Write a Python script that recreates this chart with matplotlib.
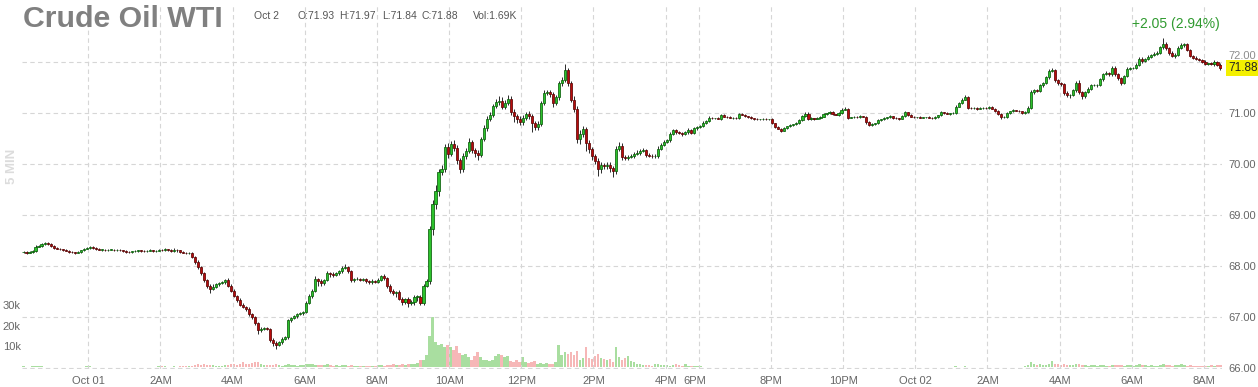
import matplotlib.pyplot as plt
import matplotlib.transforms as mtransforms
import numpy as np
import pandas as pd

plt.rcParams["font.family"] = ["Liberation Sans", "DejaVu Sans"]

# 5 minute bars, Sep 30 22:10 -> Oct 01 16:50, Oct 01 18:00 -> Oct 02 08:25
times = pd.date_range("2024-09-30 22:10", "2024-10-01 16:50", freq="5min").append(
    pd.date_range("2024-10-01 18:00", "2024-10-02 08:25", freq="5min"))

first_open = 68.27
# closing price of every bar, one row per hour
closes_by_hour = [
    [68.28, 68.26, 68.27, 68.30, 68.38, 68.40, 68.44, 68.45, 68.44, 68.40],
    [68.36, 68.34, 68.33, 68.31, 68.30, 68.28, 68.27, 68.26, 68.28, 68.31, 68.34, 68.35],
    [68.37, 68.36, 68.33, 68.32, 68.32, 68.31, 68.32, 68.32, 68.31, 68.32, 68.31, 68.30],
    [68.28, 68.27, 68.29, 68.30, 68.31, 68.30, 68.29, 68.30, 68.31, 68.29, 68.30, 68.32],
    [68.31, 68.33, 68.32, 68.30, 68.32, 68.31, 68.28, 68.26, 68.25, 68.25, 68.18, 68.08],
    [67.98, 67.86, 67.72, 67.62, 67.56, 67.60, 67.64, 67.66, 67.68, 67.73, 67.62, 67.52],
    [67.42, 67.34, 67.24, 67.20, 67.16, 67.06, 67.00, 66.88, 66.74, 66.76, 66.78, 66.77],
    [66.56, 66.50, 66.46, 66.52, 66.58, 66.62, 66.94, 66.98, 67.02, 67.06, 67.08, 67.10],
    [67.28, 67.42, 67.52, 67.74, 67.70, 67.66, 67.72, 67.86, 67.84, 67.82, 67.86, 67.90],
    [67.96, 67.98, 67.90, 67.72, 67.74, 67.75, 67.73, 67.74, 67.70, 67.68, 67.71, 67.69],
    [67.72, 67.80, 67.76, 67.62, 67.52, 67.48, 67.50, 67.36, 67.30, 67.36, 67.28, 67.30],
    [67.40, 67.40, 67.28, 67.62, 67.70, 68.72, 69.22, 69.46, 69.84, 69.90, 70.34, 70.20],
    [70.38, 70.32, 70.08, 69.90, 70.16, 70.26, 70.42, 70.28, 70.22, 70.18, 70.48, 70.70],
    [70.88, 70.96, 71.14, 71.22, 71.24, 71.12, 71.20, 71.28, 71.02, 70.94, 70.88, 70.82],
    [70.90, 70.98, 70.94, 70.80, 70.72, 70.78, 71.20, 71.38, 71.40, 71.36, 71.20, 71.30],
    [71.58, 71.64, 71.84, 71.58, 71.26, 71.08, 70.48, 70.58, 70.68, 70.40, 70.30, 70.16],
    [70.06, 69.90, 69.98, 69.96, 69.98, 69.92, 69.86, 70.30, 70.36, 70.14, 70.12, 70.14],
    [70.16, 70.20, 70.22, 70.26, 70.27, 70.18, 70.16, 70.15, 70.16, 70.30, 70.37, 70.43],
    [70.46, 70.58, 70.66, 70.62, 70.60, 70.58, 70.62, 70.66, 70.60, 70.70, 70.72],
    [70.74, 70.80, 70.84, 70.90, 70.89, 70.89, 70.88, 70.95, 70.92, 70.91, 70.90, 70.90],
    [70.89, 70.97, 70.96, 70.93, 70.91, 70.89, 70.88, 70.87, 70.87, 70.88, 70.87, 70.87],
    [70.80, 70.72, 70.69, 70.65, 70.70, 70.74, 70.76, 70.78, 70.80, 70.85, 70.93, 70.98],
    [70.88, 70.89, 70.88, 70.90, 70.92, 70.97, 70.99, 71.01, 70.97, 70.96, 70.99, 71.06],
    [71.08, 70.90, 70.91, 70.92, 70.91, 70.93, 70.92, 70.82, 70.76, 70.78, 70.80, 70.85],
    [70.87, 70.89, 70.91, 70.93, 70.90, 70.89, 70.88, 70.94, 71.01, 70.96, 70.92, 70.91],
    [70.91, 70.90, 70.91, 70.91, 70.90, 70.89, 70.92, 70.95, 71.01, 70.99, 70.98, 70.99],
    [70.99, 71.12, 71.20, 71.26, 71.30, 71.10, 71.09, 71.10, 71.08, 71.09, 71.10, 71.09],
    [71.12, 71.08, 71.04, 70.98, 70.91, 70.92, 70.99, 71.03, 71.05, 71.04, 71.03, 70.99],
    [71.02, 71.10, 71.40, 71.44, 71.42, 71.54, 71.58, 71.70, 71.82, 71.84, 71.64, 71.58],
    [71.56, 71.38, 71.34, 71.35, 71.44, 71.58, 71.40, 71.32, 71.40, 71.47, 71.54, 71.54],
    [71.55, 71.66, 71.76, 71.78, 71.75, 71.88, 71.76, 71.68, 71.58, 71.72, 71.86, 71.88],
    [71.88, 71.94, 72.06, 72.02, 72.05, 72.10, 72.14, 72.16, 72.18, 72.28, 72.34, 72.26],
    [72.18, 72.12, 72.14, 72.26, 72.32, 72.34, 72.22, 72.12, 72.08, 72.06, 72.03, 72.00],
    [71.96, 71.97, 71.95, 71.99, 71.93, 71.88],
]

# wick length above / below the body, in cents
wick_up_by_hour = [
    [2, 1, 2, 2, 3, 2, 2, 3, 2, 1],
    [1, 2, 1, 1, 2, 1, 2, 1, 2, 1, 2, 2],
    [3, 2, 1, 2, 1, 2, 1, 2, 1, 1, 2, 1],
    [1, 2, 1, 2, 1, 1, 2, 1, 2, 1, 1, 2],
    [2, 2, 1, 2, 3, 2, 1, 2, 1, 2, 2, 2],
    [3, 2, 2, 3, 2, 4, 3, 2, 3, 2, 3, 2],
    [3, 2, 4, 3, 2, 3, 2, 3, 2, 5, 3, 2],
    [2, 3, 3, 2, 3, 2, 3, 2, 3, 2, 3, 2],
    [3, 4, 3, 6, 3, 4, 2, 5, 3, 4, 3, 3],
    [4, 6, 3, 3, 2, 3, 2, 2, 3, 2, 3, 2],
    [4, 3, 5, 3, 2, 3, 2, 3, 3, 2, 3, 4],
    [4, 3, 4, 3, 5, 6, 8, 12, 6, 8, 5, 7],
    [6, 8, 5, 4, 6, 5, 8, 5, 4, 6, 5, 6],
    [5, 6, 4, 5, 8, 6, 5, 6, 4, 5, 4, 5],
    [5, 4, 6, 4, 3, 5, 4, 6, 5, 4, 5, 4],
    [5, 6, 12, 4, 5, 6, 5, 8, 6, 5, 6, 4],
    [4, 6, 5, 4, 5, 6, 4, 5, 6, 5, 4, 3],
    [4, 3, 5, 3, 4, 3, 4, 3, 4, 5, 4, 3],
    [3, 4, 3, 2, 3, 2, 3, 4, 2, 3, 3],
    [2, 3, 2, 3, 2, 1, 2, 3, 2, 1, 2, 1],
    [2, 3, 2, 2, 1, 2, 1, 2, 1, 1, 2, 1],
    [2, 1, 2, 1, 2, 1, 2, 1, 2, 2, 3, 3],
    [3, 2, 1, 2, 1, 2, 1, 2, 2, 1, 2, 3],
    [3, 2, 1, 2, 1, 2, 1, 2, 1, 2, 1, 2],
    [1, 2, 1, 2, 1, 2, 1, 2, 3, 1, 2, 1],
    [1, 2, 1, 1, 2, 1, 2, 1, 3, 1, 2, 1],
    [2, 3, 2, 3, 4, 2, 1, 2, 1, 2, 1, 2],
    [2, 1, 2, 1, 2, 1, 2, 1, 2, 1, 2, 1],
    [2, 3, 4, 3, 2, 3, 2, 3, 4, 3, 2, 3],
    [2, 3, 4, 2, 3, 4, 6, 3, 2, 3, 2, 3],
    [2, 3, 2, 3, 2, 3, 4, 2, 3, 2, 3, 2],
    [2, 3, 4, 3, 2, 3, 2, 3, 2, 3, 12, 4],
    [3, 2, 3, 4, 5, 3, 2, 3, 2, 3, 2, 3],
    [3, 1, 2, 4, 2, 4],
]
wick_dn_by_hour = [
    [2, 2, 1, 1, 2, 1, 2, 2, 2, 2],
    [2, 1, 2, 2, 1, 2, 1, 2, 1, 2, 1, 1],
    [1, 2, 2, 1, 2, 1, 2, 1, 2, 1, 1, 2],
    [2, 1, 2, 1, 2, 2, 1, 2, 1, 2, 2, 1],
    [2, 1, 2, 2, 2, 3, 2, 1, 2, 1, 3, 3],
    [3, 3, 4, 5, 8, 3, 2, 3, 2, 3, 3, 2],
    [3, 4, 3, 2, 4, 3, 3, 4, 6, 3, 2, 3],
    [5, 6, 8, 3, 4, 3, 4, 3, 2, 3, 2, 4],
    [2, 3, 4, 3, 8, 4, 3, 2, 5, 3, 2, 3],
    [3, 2, 3, 4, 3, 2, 3, 2, 3, 4, 3, 3],
    [3, 2, 3, 4, 5, 4, 8, 3, 6, 4, 9, 5],
    [6, 8, 5, 4, 3, 5, 12, 10, 8, 5, 6, 8],
    [5, 6, 9, 8, 5, 6, 5, 7, 8, 10, 5, 4],
    [6, 5, 5, 4, 6, 5, 4, 5, 6, 12, 8, 6],
    [5, 4, 6, 18, 6, 5, 4, 5, 4, 6, 8, 4],
    [4, 5, 4, 6, 5, 6, 8, 10, 6, 14, 8, 9],
    [6, 14, 8, 6, 5, 8, 12, 5, 4, 6, 5, 4],
    [3, 4, 3, 4, 3, 4, 3, 4, 3, 4, 3, 2],
    [2, 3, 2, 3, 2, 3, 2, 3, 2, 2, 3],
    [2, 1, 2, 2, 1, 2, 1, 2, 1, 2, 1, 2],
    [1, 2, 1, 2, 2, 1, 2, 1, 2, 1, 1, 2],
    [2, 2, 1, 3, 1, 2, 1, 2, 1, 2, 1, 2],
    [2, 2, 3, 1, 2, 1, 2, 1, 2, 1, 2, 1],
    [1, 3, 1, 2, 1, 2, 1, 3, 2, 1, 2, 1],
    [2, 1, 2, 1, 2, 1, 2, 1, 2, 2, 1, 2],
    [2, 1, 1, 2, 1, 2, 1, 2, 1, 2, 1, 2],
    [1, 2, 1, 2, 1, 2, 2, 1, 2, 1, 2, 1],
    [2, 1, 2, 2, 3, 1, 2, 1, 2, 1, 2, 2],
    [2, 3, 2, 3, 2, 2, 3, 2, 3, 2, 3, 4],
    [3, 4, 3, 5, 2, 3, 3, 4, 3, 2, 3, 2],
    [3, 2, 3, 2, 3, 2, 3, 4, 3, 2, 2, 3],
    [3, 2, 3, 4, 3, 2, 3, 2, 3, 2, 3, 4],
    [4, 3, 4, 3, 2, 3, 2, 3, 2, 3, 2, 3],
    [2, 3, 2, 3, 2, 4],
]

# volume per bar, thousands of contracts
volume_by_hour = [
    [0.3, 0.2, 0.2, 0.3, 0.4, 0.3, 0.3, 0.2, 0.2, 0.2],
    [0.2, 0.2, 0.1, 0.2, 0.2, 0.1, 0.2, 0.2, 0.1, 0.2, 0.2, 0.3],
    [0.3, 0.2, 0.2, 0.1, 0.2, 0.2, 0.1, 0.2, 0.2, 0.1, 0.2, 0.2],
    [0.2, 0.1, 0.2, 0.2, 0.1, 0.2, 0.2, 0.2, 0.1, 0.2, 0.2, 0.3],
    [0.3, 0.3, 0.2, 0.2, 0.3, 0.2, 0.3, 0.4, 0.3, 0.4, 0.6, 0.9],
    [1.2, 1.0, 1.4, 0.9, 1.1, 0.8, 0.7, 0.6, 0.7, 0.8, 1.0, 1.2],
    [1.4, 1.1, 1.6, 2.6, 1.4, 1.2, 1.8, 2.4, 2.6, 1.4, 1.0, 0.8],
    [1.0, 0.9, 1.2, 0.8, 0.7, 0.9, 1.4, 1.0, 0.8, 0.7, 0.9, 1.0],
    [1.2, 1.6, 1.3, 1.0, 0.8, 1.0, 0.9, 1.4, 0.8, 0.7, 0.8, 0.7],
    [0.9, 0.8, 0.6, 0.8, 0.7, 0.5, 0.6, 0.7, 0.6, 0.5, 0.6, 0.5],
    [0.8, 0.9, 0.7, 1.0, 0.8, 1.2, 0.9, 1.0, 1.3, 1.1, 1.4, 1.6],
    [1.2, 2.0, 3.4, 3.2, 5.6, 15.0, 24.5, 12.0, 10.6, 11.0, 9.8, 10.5],
    [9.6, 8.4, 10.2, 7.0, 5.6, 6.5, 4.8, 3.5, 5.4, 7.4, 5.0, 3.2],
    [3.6, 2.8, 3.2, 5.5, 6.2, 5.8, 5.0, 5.5, 3.0, 2.5, 3.4, 2.6],
    [4.8, 2.4, 1.8, 2.2, 3.0, 1.6, 1.8, 1.4, 2.0, 1.6, 1.2, 2.6],
    [10.5, 5.6, 7.2, 6.4, 7.5, 5.6, 7.8, 3.6, 4.6, 9.8, 4.2, 3.8],
    [5.4, 6.2, 4.6, 4.0, 3.2, 3.8, 2.6, 9.6, 4.8, 3.6, 4.2, 5.2],
    [3.0, 2.2, 1.4, 1.2, 1.0, 0.9, 0.8, 0.7, 1.6, 1.4, 1.0, 0.8],
    [0.8, 0.6, 0.8, 1.6, 0.8, 0.7, 1.4, 0.6, 0.5, 0.6, 0.5],
    [0.3, 0.2, 0.2, 0.2, 0.1, 0.2, 0.1, 0.2, 0.1, 0.1, 0.2, 0.1],
    [0.2, 0.1, 0.1, 0.2, 0.1, 0.1, 0.1, 0.2, 0.1, 0.1, 0.1, 0.1],
    [0.1, 0.2, 0.1, 0.1, 0.1, 0.2, 0.1, 0.1, 0.1, 0.2, 0.1, 0.2],
    [0.2, 0.1, 0.1, 0.2, 0.1, 0.1, 0.2, 0.1, 0.1, 0.1, 0.1, 0.2],
    [0.2, 0.2, 0.1, 0.1, 0.1, 0.1, 0.1, 0.2, 0.2, 0.1, 0.1, 0.1],
    [0.1, 0.1, 0.1, 0.1, 0.1, 0.1, 0.1, 0.1, 0.2, 0.1, 0.1, 0.1],
    [0.1, 0.1, 0.1, 0.1, 0.1, 0.1, 0.1, 0.1, 0.2, 0.1, 0.1, 0.1],
    [0.1, 0.3, 0.2, 0.2, 0.3, 0.2, 0.1, 0.1, 0.1, 0.1, 0.1, 0.1],
    [0.2, 0.1, 0.2, 0.2, 0.2, 0.1, 0.1, 0.2, 0.1, 0.1, 0.2, 0.2],
    [0.4, 1.0, 2.4, 1.4, 1.0, 1.2, 1.0, 0.9, 1.6, 3.0, 1.4, 1.2],
    [0.9, 1.2, 1.0, 0.8, 0.9, 1.4, 1.2, 0.8, 0.9, 0.7, 0.8, 0.9],
    [0.7, 0.8, 0.9, 0.7, 0.6, 1.0, 0.8, 0.9, 0.8, 0.7, 0.9, 0.8],
    [0.7, 0.8, 1.4, 0.9, 0.8, 0.7, 0.8, 0.6, 0.7, 1.0, 1.6, 0.9],
    [0.8, 0.7, 0.8, 0.9, 1.5, 0.8, 0.7, 0.8, 0.6, 0.7, 0.6, 0.7],
    [0.7, 0.6, 0.8, 0.7, 0.9, 1.0],
]

price_ticks = [66, 67, 68, 69, 70, 71, 72]
volume_ticks = [10, 20, 30]
volume_tick_labels = ["10k", "20k", "30k"]
title = "Crude Oil WTI"
bar_info = [("Oct 2", 254), ("O:71.93", 297), ("H:71.97", 339),
            ("L:71.84", 382), ("C:71.88", 421), ("Vol:1.69K", 473)]
change_text = "+2.05 (2.94%)"


def flat(rows):
    return np.array([v for row in rows for v in row], dtype=float)


closes = flat(closes_by_hour)
opens = np.concatenate([[first_open], closes[:-1]])
highs = np.maximum(opens, closes) + flat(wick_up_by_hour) / 100
lows = np.minimum(opens, closes) - flat(wick_dn_by_hour) / 100
volume = flat(volume_by_hour)
idx = np.arange(len(closes))
up = closes >= opens

W, H = 1258, 387
fig = plt.figure(figsize=(W / 100, H / 100), dpi=100)
rect = [22 / W, 18 / H, 1200 / W, 364 / H]
axv = fig.add_axes(rect)
ax = fig.add_axes(rect, sharex=axv)
ax.patch.set_visible(False)

# volume underneath
axv.bar(idx, volume, width=0.9, color=np.where(up, "#a9dea0", "#f6b7b7"), linewidth=0)
axv.set_ylim(-1.0, 176.6)
axv.set_yticks(volume_ticks)
axv.set_yticklabels(volume_tick_labels)
axv.tick_params(axis="y", length=0, pad=1, labelsize=8, labelcolor="#666666")
axv.tick_params(axis="x", bottom=False, labelbottom=False)
for s in axv.spines.values():
    s.set_visible(False)

# candles
ax.vlines(idx, lows, highs, color="#2a2a2a", linewidth=0.7, zorder=2)
body = np.maximum(np.abs(closes - opens), 0.006)
ax.bar(idx, body, bottom=np.minimum(opens, closes), width=0.7,
       color=np.where(up, "#2cc22c", "#b80c0c"),
       edgecolor=np.where(up, "#0b5e0b", "#5a0505"), linewidth=0.55, zorder=3)

ax.set_xlim(-0.5, len(idx) - 0.5)
ax.set_ylim(65.986, 73.11)

# x ticks every two hours at the start of the bar
tick_pos, tick_lab = [], []
for i, t in enumerate(times):
    if t.minute == 0 and t.hour % 2 == 0:
        tick_pos.append(i - 0.5)
        if t.hour == 0:
            tick_lab.append(t.strftime("%b %d"))
        else:
            h = t.hour % 12 or 12
            tick_lab.append(f"{h}{'AM' if t.hour < 12 else 'PM'}")
ax.set_xticks(tick_pos)
ax.set_xticklabels(tick_lab)
ax.tick_params(axis="x", length=0, pad=5, labelsize=8, labelcolor="#666666")
for lab in ax.get_xticklabels():
    if lab.get_text() == "6PM":
        lab.set_transform(lab.get_transform() + mtransforms.ScaledTranslation(-4 / 100, 0, fig.dpi_scale_trans))

ax.yaxis.tick_right()
ax.set_yticks(price_ticks)
ax.set_yticklabels([f"{v:.2f}" if v != 72 else "" for v in price_ticks])
ax.tick_params(axis="y", length=0, pad=4.5, labelsize=8, labelcolor="#666666")
ax.grid(True, color="#d6d6d6", linestyle=(0, (4, 3)), linewidth=0.8)
ax.set_axisbelow(True)
for s in ax.spines.values():
    s.set_visible(False)

# 72.00 label partly hidden by the last price box
ax.annotate("72.00", xy=(1, 72), xycoords=("axes fraction", "data"), xytext=(4.5, 4),
            textcoords="offset points", ha="left", va="center", fontsize=8, color="#8c8c8c")
ax.annotate(f"{closes[-1]:.2f}", xy=(1, closes[-1]), xycoords=("axes fraction", "data"),
            xytext=(4.5, 0), textcoords="offset points", ha="left", va="center",
            fontsize=8.5, color="#222222", zorder=5,
            bbox=dict(boxstyle="square,pad=0.18", fc="#f4f000", ec="none"))

fig.text(23 / W, 1 - 27 / H, title, fontsize=21.8, fontweight="bold", color="#808080", va="baseline")
for txt, x in bar_info:
    fig.text(x / W, 1 - 19 / H, txt, fontsize=7.5, color="#555555", va="baseline")
fig.text(1220 / W, 1 - 28 / H, change_text, fontsize=10, color="#2f9a2f", ha="right", va="baseline")
fig.text(12 / W, 1 - 166 / H, "5 MIN", fontsize=9.5, fontweight="bold", color="#dcdcdc",
         rotation=90, ha="center", va="center")

fig.savefig("out.png", dpi=100)
